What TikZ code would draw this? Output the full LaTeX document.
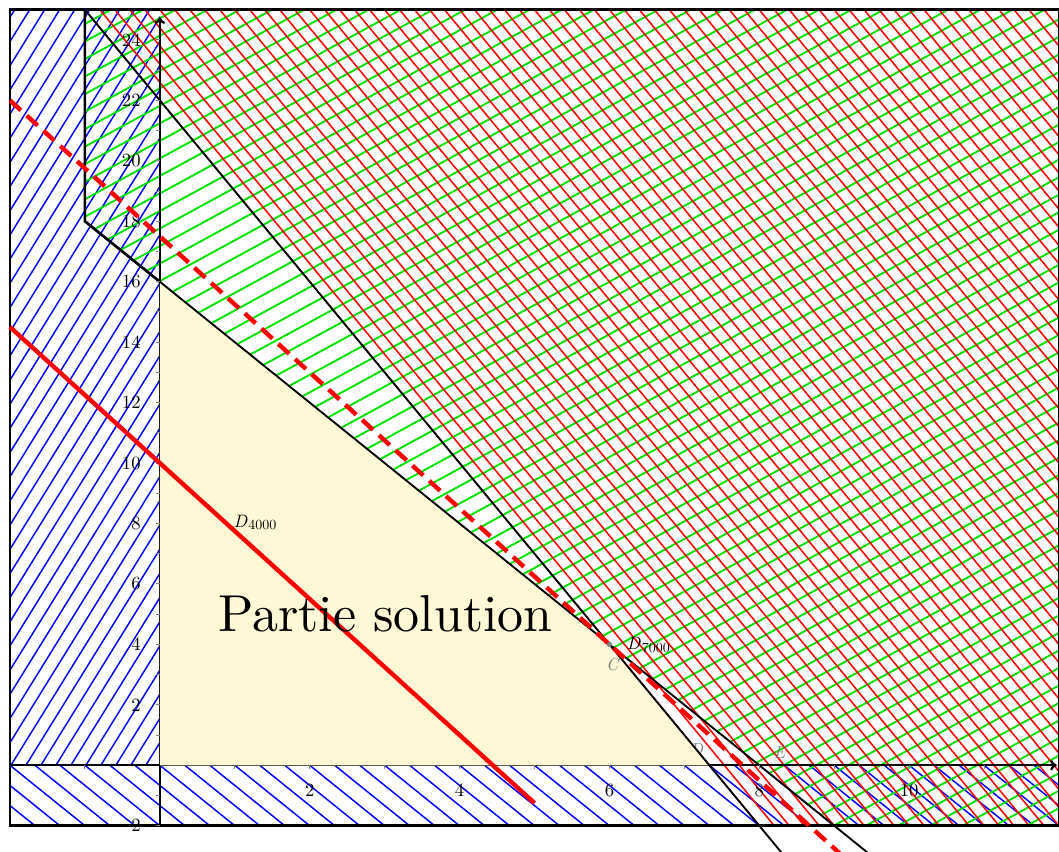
\documentclass[tikz,border=0pt]{standalone}
\usepackage{fontspec}
\setmainfont{lmroman10-regular}[Extension=.otf, ItalicFont=lmroman10-italic, BoldFont=lmroman10-bold]
\usetikzlibrary{arrows.meta}
\definecolor{cream}{RGB}{255,248,214}
\definecolor{hgreen}{RGB}{0,225,0}
\definecolor{hblue}{RGB}{0,0,255}
\definecolor{hred}{RGB}{255,0,0}
\newcommand{\dsub}[1]{\textit{D}\kern0.05em\raisebox{-0.35ex}{\fontsize{10.5}{12}\selectfont #1}}
\tikzset{
  hatchb/.style={hblue, line width=1.1pt},
  hatchg/.style={hgreen, line width=1.4pt},
  hatchr/.style={hred, line width=1.15pt},
  bline/.style={black, line width=1.4pt},
  thickborder/.style={black, line width=2pt},
  axisline/.style={black, line width=1.8pt},
  tk/.style={gray, line width=0.8pt},
  ticklab/.style={font=\fontsize{14}{16}\selectfont, inner sep=0pt},
  ptlab/.style={font=\fontsize{13}{15}\selectfont\itshape, inner sep=0pt, text=gray},
  dlab/.style={font=\fontsize{13.5}{15}\selectfont, inner sep=0pt},
}
\begin{document}
\begin{tikzpicture}[x=56.25pt,y=22.6875pt]
\useasboundingbox (-2.1333,-2.843) rectangle (12,25.322);
\clip (-2.1333,-2.843) rectangle (12,25.322);

% blue hatch, left
\begin{scope}
  \clip (-2,0) rectangle (0,25);
  \foreach \i in {0,...,44} \draw[hatchb] ({-8.387+0.2*\i},0) -- ++(6.25,25);
\end{scope}
% blue hatch, bottom
\begin{scope}
  \clip (-2,-2) rectangle (12,0);
  \foreach \i in {0,...,46} \draw[hatchb] ({-3+\i/3},0) -- ++(1,-2);
\end{scope}
% green hatch
\begin{scope}
  \clip (-1,25) -- (-1,18) -- (9,-2) -- (12,-2) -- (12,25) -- cycle;
  \foreach \i in {0,...,78} \draw[hatchg] (-1,{-19.55+0.58*\i}) -- ++(13,17.55);
\end{scope}
% red hatch
\begin{scope}
  \clip (-1,25) -- (8,-2) -- (12,-2) -- (12,25) -- cycle;
  \foreach \i in {0,...,112} \draw[hatchr] ({-1+0.2*\i},-2) -- ++(-9,27);
\end{scope}

% faint hidden label
\node[ptlab] (lD) at (7.16,0.53) {D};

% axes
\coordinate (xs) at (-2,0);
\coordinate (xe) at (11.97,0);
\coordinate (ys) at (0,-2);
\coordinate (ye) at (0,24.75);
\draw[axisline,-{To[length=5pt,width=8pt]}] (xs) -- (xe);
\draw[axisline,-{To[length=5pt,width=8pt]}] (ys) -- (ye);

% solution region
\coordinate (O) at (0,0);
\coordinate (A) at (0,16);
\coordinate (C) at (6,4);
\coordinate (B) at ({22/3},0);
\fill[cream] (O) -- (A) -- (C) -- (B) -- cycle;

% frame
\coordinate (f1) at (-2,-2);
\coordinate (f2) at (12,25);
\draw[thickborder] (f1) rectangle (f2);

% constraint lines
\coordinate (g0) at (-1,25);
\coordinate (g1) at (-1,18);
\coordinate (g2) at (9.45,-2.9);
\coordinate (r2) at (8.3,-2.9);
\draw[thickborder] (g0) -- (g1) -- (A);
\draw[bline] (g1) -- (g2);
\draw[bline] (g0) -- (r2);

% ticks
\foreach \k in {-2,-1,1,2,...,24} \draw[tk] (0,\k) -- (-0.05,\k);
\foreach \k in {-1,1,2,...,11} \draw[tk] (\k,0) -- (\k,-0.12);
\node[ticklab,anchor=east] at (-0.253,-2) {−2};
\foreach \k in {2,4,...,24} \node[ticklab,anchor=east] at (-0.253,\k) {\k};
\foreach \k in {2,4,6,8,10} \node[ticklab] at (\k,-0.83) {\k};

% point C
\fill[gray] (C) circle (2pt);

% objective lines
\coordinate (d4a) at (-2,14.5);
\coordinate (d4b) at (5,-1.25);
\coordinate (d7a) at (-2,22);
\coordinate (d7b) at (9.1,-2.975);
\draw[hred, line width=3.3pt] (d4a) -- (d4b);
\draw[hred, line width=3.3pt, dash pattern=on 11pt off 6pt] (d7a) -- (d7b);

% labels
\node[dlab] (l4) at (1.27,8.03) {\dsub{4000}};
\node[dlab] (l7) at (6.52,3.97) {\dsub{7000}};
\node[ptlab] (lC) at (6.04,3.34) {C};
\node[ptlab] (lE) at (8.27,0.43) {E};
\node[font=\fontsize{39}{45}\selectfont, inner sep=0pt] (sol) at (3.01,5.02) {Partie solution};
\end{tikzpicture}
\end{document}
